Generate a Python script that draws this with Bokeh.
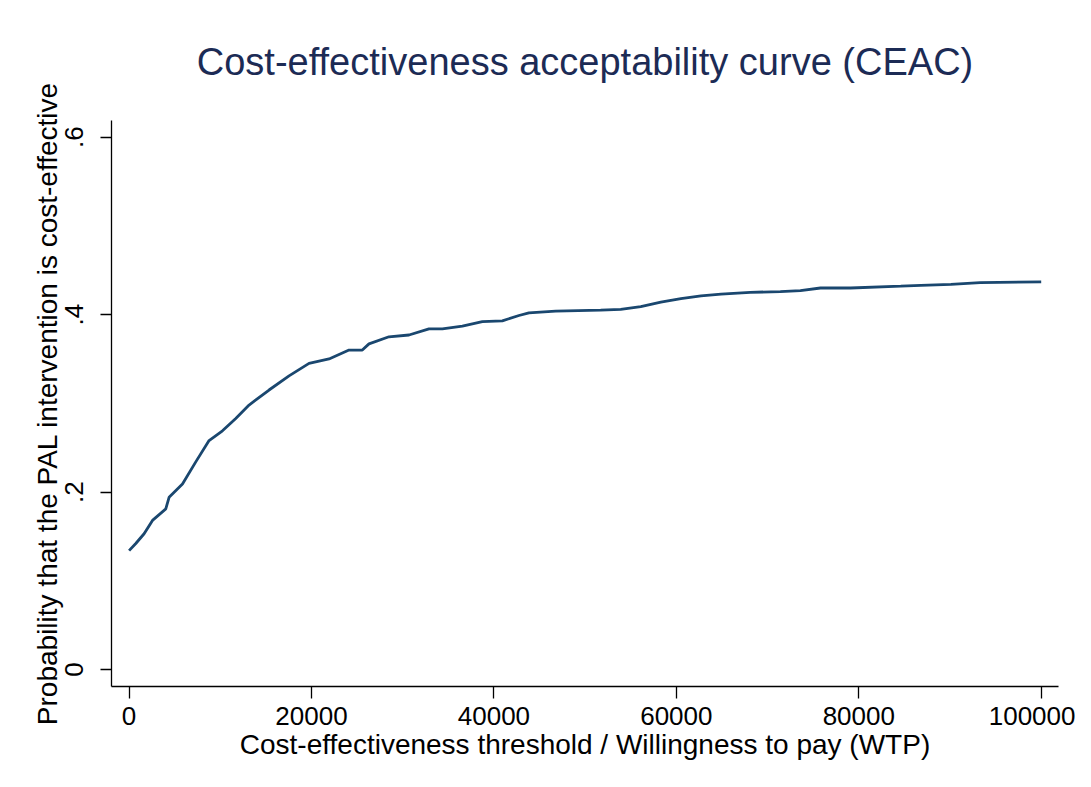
from bokeh.plotting import figure
from bokeh.models import Range1d, FixedTicker, CustomJSTickFormatter, BasicTickFormatter
from bokeh.embed import file_html
from bokeh.resources import INLINE

# Willingness-to-pay thresholds and probability cost-effective
wtp = [0, 734, 1644, 2565, 4022, 4384, 5852, 7310, 8768, 10237, 11694, 13152,
       15344, 17536, 19728, 21920, 24112, 25570, 26301, 28493, 30685, 32877,
       34346, 36538, 38730, 40921, 42741, 43837, 46764, 51700, 53900, 56100,
       58300, 60500, 62700, 64900, 68100, 71400, 73600, 75800, 79100, 84600,
       86800, 90100, 93300, 100000]
prob = [0.134, 0.142, 0.153, 0.168, 0.181, 0.194, 0.209, 0.234, 0.258, 0.269,
        0.283, 0.298, 0.315, 0.331, 0.345, 0.350, 0.360, 0.360, 0.367, 0.375,
        0.377, 0.384, 0.384, 0.387, 0.392, 0.393, 0.399, 0.402, 0.404, 0.405,
        0.406, 0.409, 0.414, 0.418, 0.421, 0.423, 0.425, 0.426, 0.427, 0.430,
        0.430, 0.432, 0.433, 0.434, 0.436, 0.437]

x_ticks = [0, 20000, 40000, 60000, 80000, 100000]
y_ticks = [0, 0.2, 0.4, 0.6]

title_text = "Cost-effectiveness acceptability curve (CEAC)"
x_title = "Cost-effectiveness threshold / Willingness to pay (WTP)"
y_title = "Probability that the PAL intervention is cost-effective"

FONT = "Liberation Sans"
W, H = 1075, 771

p = figure(width=W, height=H, output_backend="svg", toolbar_location=None,
           x_range=Range1d(-1929, 101896), y_range=Range1d(-0.0192, 0.6188),
           min_border_left=111, min_border_right=17, min_border_top=120,
           min_border_bottom=85, title=title_text)

p.line(wtp, prob, line_color="#1a476f", line_width=2.8)

p.outline_line_color = None
p.background_fill_color = "white"
p.border_fill_color = "white"
p.grid.visible = False

p.title.text_font = FONT
p.title.text_font_size = "38px"
p.title.text_font_style = "normal"
p.title.text_color = "#1c2b55"
p.title.align = "center"
p.title.standoff = 75

xa = p.xaxis[0]
xa.ticker = FixedTicker(ticks=x_ticks)
xa.formatter = BasicTickFormatter(use_scientific=False)
xa.axis_label = x_title
ya = p.yaxis[0]
ya.ticker = FixedTicker(ticks=y_ticks)
ya.formatter = CustomJSTickFormatter(code="""
    if (Math.abs(tick) < 1e-9) { return "0"; }
    return tick.toFixed(1).replace(/^0/, "");
""")
ya.axis_label = y_title
ya.major_label_orientation = "vertical"

for ax in (xa, ya):
    ax.axis_line_color = "black"
    ax.axis_line_width = 1.3
    ax.major_tick_line_color = "black"
    ax.major_tick_line_width = 1.3
    ax.major_tick_in = 0
    ax.minor_tick_line_color = None
    ax.major_label_text_font = FONT
    ax.major_label_text_font_size = "26px"
    ax.major_label_text_color = "black"
    ax.axis_label_text_font = FONT
    ax.axis_label_text_font_size = "28px"
    ax.axis_label_text_font_style = "normal"
    ax.axis_label_text_color = "black"

xa.major_tick_out = 12
xa.major_label_standoff = 8
xa.axis_label_standoff = 1
ya.major_tick_out = 11
ya.major_label_standoff = 17
ya.axis_label_standoff = 0

open("out.html", "w").write(file_html(p, INLINE))
